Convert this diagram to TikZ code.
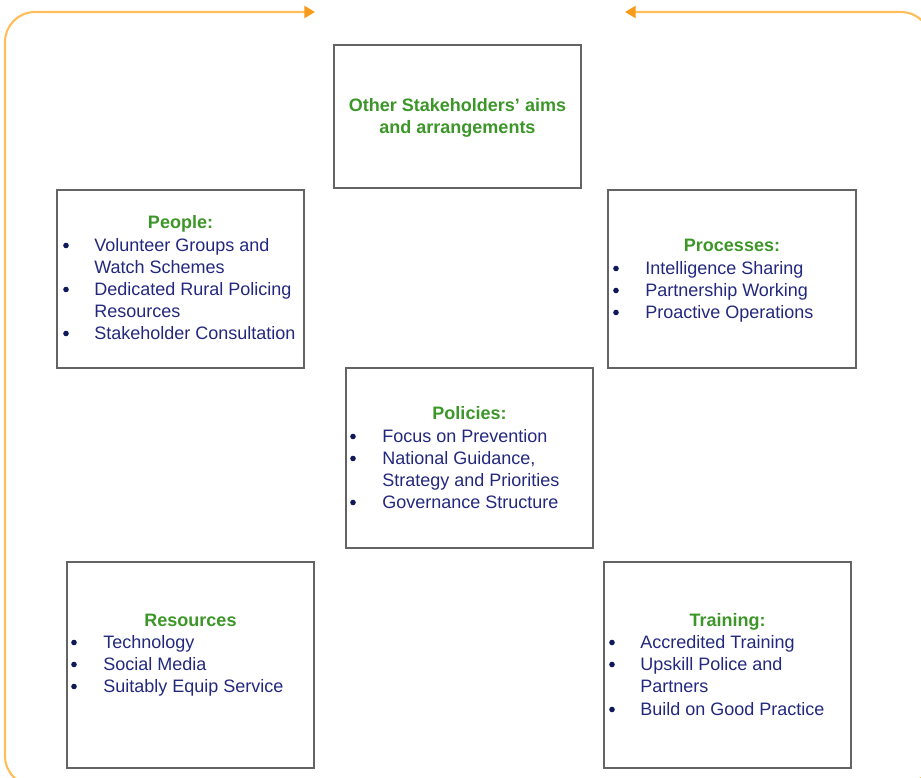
\documentclass[tikz,border=0pt]{standalone}
\usepackage{fontspec}
\setmainfont{Liberation Sans}
\usetikzlibrary{arrows.meta,fit}
\definecolor{frameor}{RGB}{255,190,90}
\definecolor{tipor}{RGB}{247,155,25}
\definecolor{ttlgreen}{RGB}{60,150,40}
\definecolor{itmblue}{RGB}{35,40,125}
\definecolor{dotblue}{RGB}{15,25,90}
\definecolor{boxgray}{RGB}{100,100,100}
\tikzset{
 framepath/.style={draw=frameor, line width=1.6pt, rounded corners=22.5pt, -{Triangle[length=8pt,width=9pt,color=tipor]}},
 box/.style={draw=boxgray, line width=1.4pt, inner sep=0pt, rectangle},
 ttl/.style={font=\fontsize{13.5pt}{16.5pt}\selectfont\bfseries, text=ttlgreen, inner sep=0pt, anchor=base},
 itm/.style={font=\fontsize{13.5pt}{16.5pt}\selectfont, text=itmblue, inner sep=0pt, anchor=base west},
 dot/.style={circle, fill=dotblue, inner sep=0pt, minimum size=4.2pt},
}
\newcommand{\bul}[5]{\node[dot] (#1d) at (#2,#4-5.5) {};\node[itm] (#1) at (#3,#4) {#5};}
\newcommand{\cont}[4]{\node[itm] (#1) at (#2,#3) {#4};}
\begin{document}
\begin{tikzpicture}[x=0.75pt,y=-0.75pt]
\useasboundingbox (0,0) rectangle (921,778);
\clip (0,0) rectangle (921,778);
% frame
\coordinate (lt) at (315,12);
\coordinate (rt) at (625,12);
\coordinate (bl) at (470,786);
\coordinate (blc) at (5,786);
\coordinate (tlc) at (5,12);
\coordinate (brc) at (931,786);
\coordinate (trc) at (931,12);
\draw[framepath] (bl) -- (blc) -- (tlc) -- (lt);
\draw[framepath] (bl) -- (brc) -- (trc) -- (rt);
% boxes
\node[box, fit={(334,45) (581,188)}] (oth) {};
\node[box, fit={(57,190) (304,368)}] (peo) {};
\node[box, fit={(608,190) (856,368)}] (pro) {};
\node[box, fit={(346,368) (593,548)}] (pol) {};
\node[box, fit={(67,562) (314,768)}] (res) {};
\node[box, fit={(604,562) (851,768)}] (tra) {};
% other stakeholders
\node[ttl, anchor=center, align=center] (othT) at (457.5,118) {Other Stakeholders’ aims\\and arrangements};
% people
\node[ttl] (peoT) at (180.5,228) {People:};
\bul{pa}{66}{94}{251}{Volunteer Groups and}
\cont{pa2}{94}{273}{Watch Schemes}
\bul{pb}{66}{94}{295}{Dedicated Rural Policing}
\cont{pb2}{94}{317}{Resources}
\bul{pc}{66}{94}{339}{Stakeholder Consultation}
% processes
\node[ttl] (proT) at (732,251) {Processes:};
\bul{ra}{616}{645}{274}{Intelligence Sharing}
\bul{rb}{616}{645}{296}{Partnership Working}
\bul{rc}{616}{645}{318}{Proactive Operations}
% policies
\node[ttl] (polT) at (469.5,419) {Policies:};
\bul{la}{353}{382}{442}{Focus on Prevention}
\bul{lb}{353}{382}{464}{National Guidance,}
\cont{lb2}{382}{486}{Strategy and Priorities}
\bul{lc}{353}{382}{508}{Governance Structure}
% resources
\node[ttl] (resT) at (190.5,626) {Resources};
\bul{sa}{74}{103}{648}{Technology}
\bul{sb}{74}{103}{670}{Social Media}
\bul{sc}{74}{103}{692}{Suitably Equip Service}
% training
\node[ttl] (traT) at (727.5,626) {Training:};
\bul{ta}{612}{640}{648}{Accredited Training}
\bul{tb}{612}{640}{670}{Upskill Police and}
\cont{tb2}{640}{692}{Partners}
\bul{tc}{612}{640}{715}{Build on Good Practice}
\end{tikzpicture}
\end{document}
